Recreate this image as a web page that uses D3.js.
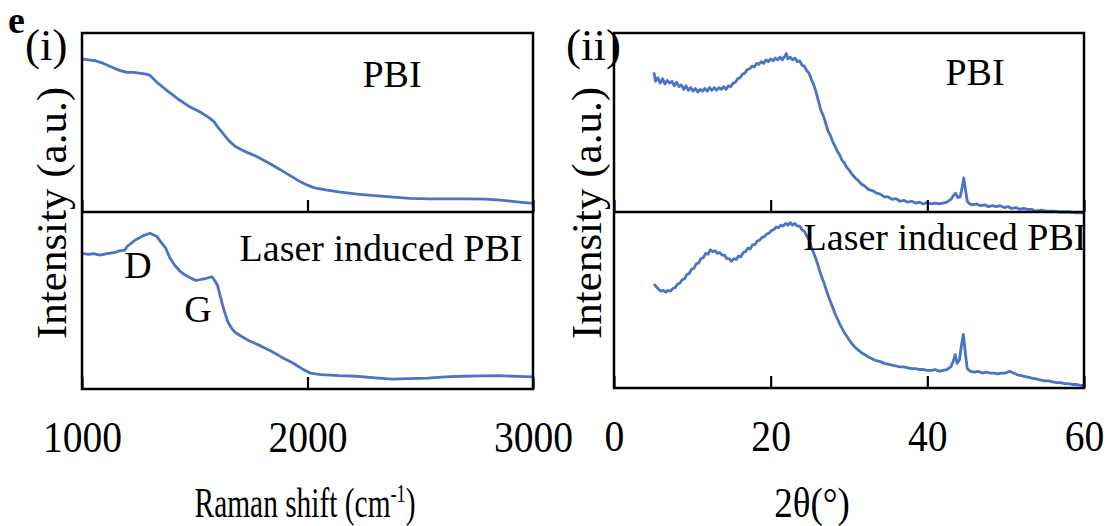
<!DOCTYPE html>
<html><head><meta charset="utf-8">
<script src="https://cdn.jsdelivr.net/npm/d3@7"></script>
<style>
body{margin:0;background:#fff}
svg{display:block;font-family:"Liberation Serif","DejaVu Serif",serif}
svg text{font-family:"Liberation Serif","DejaVu Serif",serif;fill:#000}
</style>
</head><body>
<svg id="chart" width="1109" height="526"></svg>
<script>
// ---------- DATA ----------
const ramanTicks = [1000, 2000, 3000];
const xrdTicks = [0, 20, 40, 60];

// Raman, PBI
const ramanPBI_x = [1000,1030,1060,1095,1130,1170,1200,1230,1260,1285,1300,1332,1380,1427,1475,1522,1560,1585,1605,1624,1650,1680,1720,1775,1840,1901,1960,2000,2028,2080,2138,2220,2297,2380,2455,2540,2613,2700,2787,2840,2880,2940,3000];
const ramanPBI_y = [85.5,85,84.5,83,81,79,78,78,77.5,77,76.5,72.5,67.5,63,59,56,53,50.5,47,44,40,36.6,34,31,26.5,22,17.5,15,13.6,12.3,11.2,10,9.1,8.3,7.6,7.3,7.3,7.3,7.2,6.8,6.3,5.5,4.8];

// Raman, laser induced PBI
const ramanLIG_x = [1000,1030,1050,1079,1110,1142,1165,1190,1200,1237,1270,1301,1332,1350,1372,1390,1411,1435,1459,1485,1506,1530,1545,1565,1577,1590,1601,1612,1624,1636,1648,1665,1680,1710,1743,1790,1838,1885,1933,1975,2012,2060,2140,2217,2300,2376,2450,2533,2610,2692,2770,2850,2930,3000];
const ramanLIG_y = [76.6,76,76.5,75.6,76.5,77,78,78.5,80.5,84.2,86.5,88,86.2,83,79.4,74,69.9,66.5,64.2,62.5,61.3,62,62.3,63,63.3,61,58.5,53,47.1,42,37.6,34,31.9,29.5,27.1,24.5,21.5,18,14.8,11.5,9,8.1,7.5,7.2,6.3,5.6,5.9,6.2,6.8,7.2,7.4,7.6,7.1,6.8];

// XRD, PBI
const xrdPBI_x = [5.1,5.3,5.6,5.9,6.2,6.5,6.8,7.1,7.4,7.7,8.0,8.3,8.6,8.9,9.2,9.5,9.8,10.1,10.4,10.7,11.0,11.3,11.6,11.9,12.2,12.5,12.8,13.1,13.4,13.7,14.0,14.3,14.6,14.9,15.2,15.5,15.8,16.1,16.4,16.7,17.0,17.3,17.6,17.9,18.2,18.5,18.8,19.1,19.4,19.7,20.0,20.3,20.6,20.9,21.2,21.5,21.8,22.0,22.2,22.5,22.8,23.1,23.4,23.7,24.0,24.3,24.6,24.9,25.2,25.5,25.8,26.1,26.4,26.7,27.0,27.3,27.6,27.9,28.2,28.5,28.8,29.1,29.4,29.7,30.0,30.4,30.8,31.2,31.6,32.0,32.5,33.0,33.5,34.0,34.5,35.0,35.5,36.0,36.5,37.0,37.5,38.0,38.5,39.0,39.5,40.0,40.5,41.0,41.5,42.0,42.5,43.0,43.3,43.6,43.9,44.2,44.45,44.65,44.85,45.1,45.4,45.8,46.3,46.8,47.3,47.8,48.3,48.8,49.3,49.8,50.3,50.8,51.3,51.8,52.3,52.8,53.3,53.8,54.5,55.2,56,57,58,59,60];
const xrdPBI_y = [78,73,75,72,74.5,71.5,73.5,72,73,70.5,72.5,70,71,68.5,70.5,68,69.5,67.5,69,67,68.5,67.5,69,67.5,69.5,68,69.5,68,69.5,68.5,70,68.5,70.5,70,72,72.5,74.5,75,77,77.5,79.5,80,81.5,81,83,82.5,84,83,85,84,85.5,84.5,86,85,86.5,85,87,88.5,85.5,86.5,85,86,84,84.5,82,81.5,79,77.5,74,71,67,62,57,54,50,45.5,43,39.5,37,34,32,29,27.5,25,23.5,21,19,17.5,15.5,14.5,12.5,12,10.5,10,8.5,8.5,7,7.5,6,6.5,5.5,6,5,5.5,4.5,5.5,4.5,5,4.5,5,5.5,7,9,10.5,8,8.5,14,19,13,6,4.5,4,4.5,3.5,4,3,3.5,3,3.5,2.5,3,2,2.5,1.5,2,1.5,1.5,0.5,1,0.5,0.5,0,0,-0.5,-0.5];

// XRD, laser induced PBI
const xrdLIG_x = [5.1,5.4,5.7,6.0,6.3,6.6,6.9,7.2,7.5,7.8,8.1,8.4,8.7,9.0,9.3,9.6,9.9,10.2,10.5,10.8,11.1,11.4,11.7,12.0,12.3,12.6,12.9,13.2,13.5,13.8,14.1,14.4,14.7,15.0,15.3,15.6,15.9,16.2,16.5,16.8,17.1,17.4,17.7,18.0,18.3,18.6,18.9,19.2,19.5,19.8,20.1,20.4,20.7,21.0,21.3,21.6,21.9,22.2,22.5,22.8,23.1,23.4,23.7,24.0,24.3,24.6,24.9,25.2,25.5,25.8,26.1,26.4,26.7,27.0,27.3,27.6,27.9,28.2,28.5,28.8,29.1,29.4,29.7,30.0,30.4,30.8,31.2,31.6,32.0,32.5,33.0,33.5,34.0,34.5,35.0,35.5,36.0,36.5,37.0,37.5,38.0,38.5,39.0,39.5,40.0,40.5,41.0,41.5,42.0,42.5,43.0,43.3,43.55,43.8,44.1,44.35,44.6,44.85,45.1,45.5,46.0,46.5,47.0,47.5,48.0,48.5,49.0,49.5,50.0,50.5,51.0,51.5,52.0,52.5,53.0,53.5,54.0,54.5,55.0,55.5,56.0,56.5,57.0,57.5,58.0,58.5,59.0,59.5,60.0];
const xrdLIG_y = [59,57.5,56,55,55.5,54.5,55.5,55,56.5,57,59,59.5,61.5,62,64.5,65,67.5,68,70.5,71,73.5,74,76.5,76,78.5,77.5,78,76.5,77,75.5,75.5,73.5,73.5,72,73.5,73,75,74.5,77,77.5,79.5,79,81.5,81.5,83.5,84,85.5,86,87.5,88,89.5,90,91.5,91,92.5,92,93.5,92.5,94,92.5,93.5,92,92,90,89,86.5,84,80,76.5,73,69,64.5,61,57,53,49.5,46,42.5,39.5,36.5,34,31.5,29.5,27.5,25,23,21.5,20,19,17.5,16.5,15.5,15,14,13.5,13,12.5,12,12,11.5,11,11,10.5,10.5,10,10,10.5,9.5,10,10.5,12,15,19,14,16,24,30.5,20,11,9.5,9,9.5,8.5,9,8.5,8.5,8,8.5,8.5,9.5,8.5,7.5,7,6.5,6,5.5,5,4.5,4,4,3.5,3,3,2.5,2.5,2,2,1.5,1.5];

// ---------- DRAW ----------
const FONT = '"Liberation Serif","DejaVu Serif",serif';
const svg = d3.select("#chart");
const blue = "#4a74c6";

const L = {x0: 82, x1: 533, top: 33, mid: 212, bot: 389};
const R = {x0: 614, x1: 1084, top: 33, mid: 212, bot: 388};

const xRaman = d3.scaleLinear().domain([1000, 3000]).range([L.x0, L.x1]);
const yRamanTop = d3.scaleLinear().domain([0, 100]).range([L.mid, L.top]);
const yRamanBot = d3.scaleLinear().domain([0, 100]).range([L.bot, L.mid]);
const xXrd = d3.scaleLinear().domain([0, 60]).range([R.x0, R.x1]);
const yXrdTop = d3.scaleLinear().domain([0, 100]).range([R.mid, R.top]);
const yXrdBot = d3.scaleLinear().domain([0, 100]).range([R.bot, R.mid]);

function drawLine(xs, ys, xScale, yScale, w) {
  const pts = xs.map((x, i) => [x, ys[i]]);
  svg.append("path")
    .datum(pts)
    .attr("fill", "none")
    .attr("stroke", blue)
    .attr("stroke-width", w)
    .attr("stroke-linejoin", "round")
    .attr("d", d3.line().x(d => xScale(d[0])).y(d => yScale(d[1])));
}

drawLine(ramanPBI_x, ramanPBI_y, xRaman, yRamanTop, 2.8);
drawLine(ramanLIG_x, ramanLIG_y, xRaman, yRamanBot, 2.8);
drawLine(xrdPBI_x, xrdPBI_y, xXrd, yXrdTop, 2.8);
drawLine(xrdLIG_x, xrdLIG_y, xXrd, yXrdBot, 2.8);

// axes (ticks inward, pointing up)
function tickAxis(scale, ticks, y, labels) {
  const ax = d3.axisBottom(scale).tickValues(ticks).tickSizeInner(-12).tickSizeOuter(0).tickPadding(32)
    .tickFormat(labels ? d3.format("d") : "");
  const g = svg.append("g").attr("transform", `translate(0,${y})`).call(ax)
    .attr("font-family", FONT).attr("font-size", 44);
  g.select(".domain").remove();
  g.selectAll("line").attr("stroke", "#000").attr("stroke-width", 2.2);
  g.selectAll("text").attr("fill", "#000").attr("transform", "scale(0.9,1)")
    .style("font-family", FONT).style("font-size", "44px");
  return g;
}
tickAxis(xRaman, ramanTicks, L.mid, false);
tickAxis(xRaman, ramanTicks, L.bot, true);
tickAxis(xXrd, xrdTicks, R.mid, false);
tickAxis(xXrd, xrdTicks, R.bot, true);

// frames
function frame(P) {
  svg.append("rect").attr("x", P.x0).attr("y", P.top).attr("width", P.x1 - P.x0).attr("height", P.bot - P.top)
    .attr("fill", "none").attr("stroke", "#000").attr("stroke-width", 2.5);
  svg.append("line").attr("x1", P.x0).attr("x2", P.x1).attr("y1", P.mid).attr("y2", P.mid)
    .attr("stroke", "#000").attr("stroke-width", 2.5);
}
frame(L); frame(R);

// texts
function txt(s, x, y, size, anchor, extra) {
  const t = svg.append("text").attr("x", x).attr("y", y).style("font-family", FONT)
    .style("font-size", size + "px").attr("text-anchor", anchor || "start").text(s);
  if (extra) extra(t);
  return t;
}
txt("e", 8, 33, 38, "start", t => t.style("font-weight", "bold"));
txt("(i)", 25, 60, 45);
txt("(ii)", 566, 60, 45);
txt("PBI", 392, 87, 38, "middle");
txt("Laser induced PBI", 381, 261, 38, "middle");
txt("D", 138, 278, 38, "middle");
txt("G", 198, 322, 38, "middle");
txt("PBI", 975, 85, 38, "middle");
txt("Laser induced PBI", 945, 250, 38, "middle");

// y titles
svg.append("text").attr("transform", "translate(66,213) rotate(-90)").attr("text-anchor", "middle")
  .style("font-family", FONT).style("font-size", "43px").text("Intensity (a.u.)");
svg.append("text").attr("transform", "translate(601,213) rotate(-90)").attr("text-anchor", "middle")
  .style("font-family", FONT).style("font-size", "43px").text("Intensity (a.u.)");

// x titles (condensed like the reference)
const xt1 = svg.append("text").attr("transform", "translate(305,517) scale(0.7,1)").attr("text-anchor", "middle")
  .style("font-family", FONT).style("font-size", "42px");
xt1.append("tspan").text("Raman shift (cm");
xt1.append("tspan").attr("dy", -15).style("font-size", "26px").text("-1");
xt1.append("tspan").attr("dy", 15).text(")");
svg.append("text").attr("transform", "translate(812,517) scale(0.88,1)").attr("text-anchor", "middle")
  .style("font-family", FONT).style("font-size", "42px").text("2θ(°)");
</script>
</body></html>
